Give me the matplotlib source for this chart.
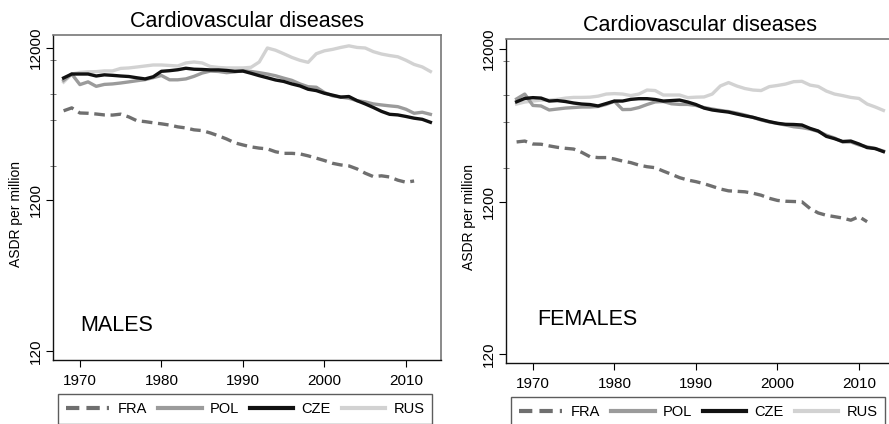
import numpy as np
import matplotlib
matplotlib.use("Agg")
import matplotlib.pyplot as plt
from matplotlib.ticker import FixedLocator, NullFormatter

plt.rcParams['font.family'] = ['Liberation Sans', 'DejaVu Sans']

# Age-standardised death rates per million, cardiovascular diseases
years = list(range(1968, 2014))
years_fra = list(range(1968, 2012))

male_fra = [4620, 4830, 4470, 4450, 4400, 4340, 4330, 4390, 4210, 3970,
            3920, 3850, 3790, 3720, 3620, 3560, 3460, 3420, 3300, 3160,
            3010, 2840, 2750, 2670, 2620, 2590, 2480, 2420, 2420, 2400,
            2330, 2250, 2170, 2080, 2030, 2000, 1910, 1790, 1700, 1720,
            1690, 1610, 1560, 1590]
male_pol = [7340, 8080, 6880, 7170, 6700, 6900, 6950, 7050, 7170, 7300,
            7420, 7650, 7900, 7400, 7400, 7500, 7800, 8200, 8450, 8400,
            8250, 8350, 8500, 8400, 8250, 8080, 7870, 7590, 7340, 6950,
            6660, 6610, 6100, 5800, 5690, 5590, 5390, 5290, 5130, 5050,
            4980, 4920, 4730, 4450, 4520, 4380]
male_cze = [7610, 8080, 8080, 8080, 7840, 7980, 7920, 7840, 7780, 7630,
            7500, 7750, 8420, 8500, 8620, 8820, 8690, 8660, 8600, 8600,
            8530, 8420, 8450, 8170, 7880, 7630, 7380, 7220, 6950, 6740,
            6410, 6280, 6030, 5860, 5690, 5740, 5390, 5130, 4860, 4580,
            4380, 4340, 4240, 4130, 4060, 3880]
male_rus = [7150, 8080, 8280, 8350, 8380, 8470, 8470, 8800, 8860, 8990,
            9130, 9270, 9270, 9200, 9130, 9560, 9700, 9560, 9060, 8930,
            8860, 8860, 8860, 8950, 9700, 12000, 11600, 11000, 10400, 9950,
            9650, 11000, 11500, 11750, 12100, 12400, 12100, 12000, 11350, 10950,
            10700, 10500, 9960, 9350, 9000, 8400]

female_fra = [2950, 2990, 2860, 2850, 2780, 2720, 2680, 2650, 2520, 2360,
              2330, 2330, 2280, 2210, 2160, 2080, 2030, 2000, 1900, 1810,
              1720, 1660, 1620, 1570, 1510, 1450, 1410, 1400, 1390, 1360,
              1320, 1260, 1220, 1205, 1200, 1195, 1080, 1010, 975, 955,
              935, 905, 955, 885]
female_pol = [5650, 6080, 5120, 5080, 4780, 4850, 4920, 4960, 5000, 5000,
              5040, 5200, 5450, 4810, 4820, 4960, 5190, 5400, 5430, 5250,
              5200, 5200, 5120, 4960, 4850, 4750, 4670, 4560, 4430, 4270,
              4110, 3990, 3900, 3810, 3710, 3660, 3580, 3460, 3270, 3130,
              2950, 2950, 2820, 2740, 2670, 2570]
female_cze = [5410, 5690, 5760, 5720, 5470, 5510, 5430, 5310, 5230, 5190,
              5080, 5270, 5470, 5470, 5610, 5670, 5670, 5600, 5470, 5510,
              5550, 5390, 5190, 4920, 4780, 4700, 4630, 4500, 4380, 4280,
              4140, 4010, 3910, 3850, 3840, 3810, 3620, 3480, 3210, 3100,
              2970, 2990, 2860, 2710, 2670, 2550]
female_rus = [5230, 5390, 5470, 5550, 5550, 5610, 5720, 5780, 5780, 5800,
              5890, 6080, 6120, 6080, 5940, 6080, 6460, 6410, 5990, 5990,
              5990, 5760, 5800, 5820, 6080, 6870, 7230, 6870, 6610, 6460,
              6410, 6800, 6920, 7070, 7330, 7370, 6960, 6820, 6360, 6080,
              5940, 5780, 5690, 5230, 5000, 4750]

labels = ["FRA", "POL", "CZE", "RUS"]
x_ticks = [1970, 1980, 1990, 2000, 2010]
y_ticks = [120, 1200, 12000]

fig = plt.figure(figsize=(8.89, 4.24), dpi=100)
ax_m = fig.add_axes([53/889, 64/424, 388/889, 325/424])
ax_f = fig.add_axes([506/889, 61/424, 388/889, 324/424])


def draw_panel(ax, fra, pol, cze, rus, sex_label, ylim, label_xy):
    h1, = ax.plot(years_fra, fra, color='#6f6f6f', lw=2.4, ls=(0, (3.2, 1.7)),
                  dash_capstyle='butt', zorder=2)
    h2, = ax.plot(years, pol, color='#9b9b9b', lw=2.4, zorder=3)
    h3, = ax.plot(years, cze, color='#111111', lw=2.4, zorder=4)
    h4, = ax.plot(years, rus, color='#d2d2d2', lw=2.4, zorder=1)

    ax.set_yscale('log')
    ax.set_xlim(1966.7, 2014.3)
    ax.set_ylim(*ylim)
    ax.set_xticks(x_ticks)
    ax.set_xticklabels([str(t) for t in x_ticks])
    ax.yaxis.set_major_locator(FixedLocator(y_ticks))
    ax.set_yticklabels([str(t) for t in y_ticks], rotation=90, va='center')
    ax.yaxis.set_minor_locator(FixedLocator([2000, 4000, 6000, 10000]))
    ax.yaxis.set_minor_formatter(NullFormatter())
    ax.tick_params(axis='both', which='major', direction='out', length=5,
                   width=0.8, labelsize=11, pad=2)
    ax.tick_params(axis='x', which='major', pad=5)
    ax.tick_params(axis='y', which='minor', direction='inout', length=4,
                   width=0.6, color='#666666')

    for side in ['left', 'bottom']:
        ax.spines[side].set_color('#111111')
        ax.spines[side].set_linewidth(1.0)
    for side in ['top', 'right']:
        ax.spines[side].set_color('#777777')
        ax.spines[side].set_linewidth(1.2)

    ax.set_title("Cardiovascular diseases", fontsize=15.5, pad=6)
    ax.set_ylabel("ASDR per million", fontsize=10)
    ax.yaxis.set_label_coords(-0.077, 0.45)
    ax.text(label_xy[0], label_xy[1], sex_label, transform=ax.get_xaxis_transform(),
            fontsize=15.5, ha='left', va='baseline')

    leg = ax.legend([h1, h2, h3, h4], labels, loc='upper left',
                    bbox_to_anchor=(0.012, -0.105), ncol=4, fontsize=10.5,
                    frameon=True, fancybox=False, edgecolor='#333333',
                    handlelength=3.0, handletextpad=0.55, columnspacing=0.75,
                    borderpad=0.55, borderaxespad=0)
    leg.get_frame().set_linewidth(1.0)
    for line in leg.get_lines():
        line.set_linewidth(3.0)


draw_panel(ax_m, male_fra, male_pol, male_cze, male_rus, "MALES",
           (104.7, 14620), (1970.0, 0.089))
draw_panel(ax_f, female_fra, female_pol, female_cze, female_rus, "FEMALES",
           (104.8, 13960), (1970.5, 0.117))

fig.savefig("out.png", dpi=100)
